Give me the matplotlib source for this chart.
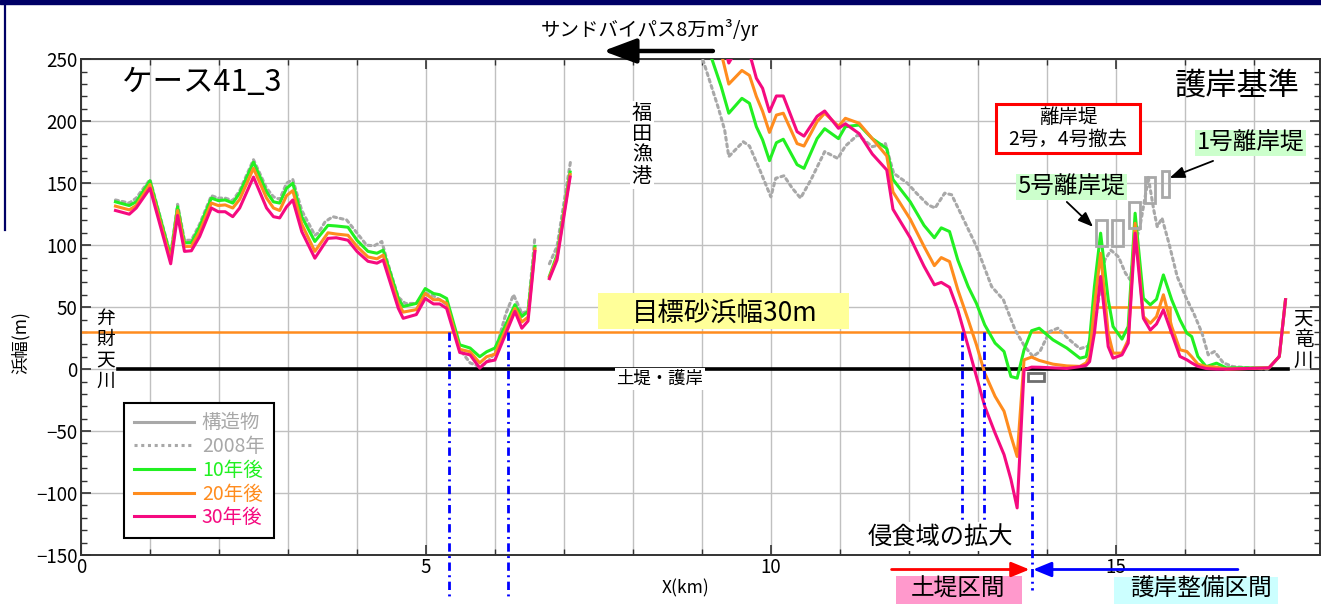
import numpy as np
import matplotlib
matplotlib.use("Agg")
import matplotlib.pyplot as plt
from matplotlib.lines import Line2D
from matplotlib.patches import Rectangle, FancyArrowPatch
from matplotlib.ticker import MultipleLocator

plt.rcParams["font.family"] = ["Noto Sans CJK JP", "DejaVu Sans"]

nan = np.nan

# ---- shoreline positions (km) and beach widths (m) ----
x_model = [0.50, 0.70, 0.80, 1.00, 1.30, 1.40, 1.50, 1.60, 1.72, 1.89, 1.99, 2.09, 2.20, 2.30,
           2.50, 2.69, 2.79, 2.88, 2.98, 3.07, 3.20, 3.39, 3.58, 3.70, 3.87, 4.00, 4.16, 4.29,
           4.38, 4.60, 4.67, 4.86, 4.99, 5.11, 5.20, 5.30, 5.49, 5.64, 5.78, 5.88, 6.00, 6.29,
           6.39, 6.48, 6.58, nan,
           6.79, 6.90, 7.09, nan,
           8.95, 9.14, 9.28, 9.39, 9.58, 9.69, 9.79, 9.88, 9.98, 10.08, 10.18, 10.38, 10.48,
           10.67, 10.78, 10.98, 11.08, 11.28, 11.47, 11.68, 11.77, 12.02, 12.22, 12.37, 12.47,
           12.59, 12.71, 12.86, 12.98, 13.10, 13.25, 13.38, 13.48, 13.57, 13.67, 13.78, 13.89,
           14.09, 14.29, 14.48, 14.57, 14.62, 14.69, 14.78, 14.89, 14.96, 15.09, 15.18, 15.28,
           15.40, 15.50, 15.59, 15.69, 15.81, 15.93, 16.03, 16.10, 16.19, 16.31, 16.46, 16.60,
           17.22, 17.37, 17.46]

width_10y = [135, 132, 135, 152, 91, 131, 102, 102, 115, 138, 136, 136.5, 134, 142,
             167, 143, 135, 134, 146, 150, 123, 103, 116, 115.5, 114.5, 104, 95, 93.5,
             96, 57, 50.5, 53, 65, 61, 60, 57, 19.6, 17, 10, 14, 17, 52,
             42.5, 46.5, 99, nan,
             75, 92, 159, nan,
             300, 251, 228, 206.5, 218.5, 214.5, 195.6, 185, 168.2, 182.7, 185.5, 165, 162,
             186, 194, 186, 195.6, 197, 186, 178, 153, 135, 116, 106, 114,
             111, 88, 66.6, 53, 35.7, 21, 14.2, -6, -7.3, 15.6, 31, 33,
             23.6, 17, 8.8, 10, 23.6, 66.6, 109.7, 56, 34.4, 24.2, 34.4, 125.8,
             57.2, 51.9, 56.4, 76, 56, 39.8, 29, 26.3, 10.2, 2, 4.8, 1,
             1, 10.2, 56]

width_20y = [131.5, 128.5, 132, 149, 88, 128, 99, 99, 111, 134, 132, 132.5, 130, 137,
             162, 138, 130, 128, 140, 144, 117, 95, 110, 109, 108, 99, 90.5, 89,
             92, 53, 46, 48, 61, 56, 56, 53, 16, 14, 5, 10, 12, 49,
             38, 42, 97, nan,
             74, 90, 157, nan,
             330, 270, 255, 230, 241, 237, 220, 208, 191, 205, 206.5, 182, 180,
             199.7, 206.5, 196, 202.4, 198.4, 186, 172, 143, 121, 99, 83.5, 90,
             86.8, 64, 39.8, 19.6, -3.2, -22, -34, -54, -70.5, 7.5, 9.7, 7,
             4, 2.6, 2.2, 5, 10.2, 50.5, 93.5, 29, 12.9, 12.9, 23.6, 117.7,
             42.4, 37, 42.4, 60, 34.4, 15.6, 14.2, 10, 4, 2, 1.6, 0,
             1, 10.2, 56]

width_30y = [128, 125, 130, 146, 85, 124, 95, 95.5, 107, 130, 127, 127, 123, 130,
             155, 130, 123, 122, 131, 136.5, 111, 89.5, 105.5, 106, 104, 95, 87, 85.5,
             88, 49, 41, 44, 57, 52.6, 52.6, 49, 13.4, 11.5, 0.8, 6, 7.3, 46.5,
             33, 38.8, 95, nan,
             73, 88, 155, nan,
             340, 300, 270, 247, 265, 255, 234.7, 226.6, 207.7, 220.4, 220.4, 191.6, 188,
             204, 208.3, 194.3, 198, 190, 173.6, 160.7, 129, 106, 83, 68, 70,
             66, 47.8, 18.2, -6, -30, -51.6, -69, -89, -112, -0.5, 1.6, 1.5,
             1, 0.5, 2, 3, 6, 29, 74.7, 18.2, 8.8, 11.5, 21, 109.7,
             41, 31.5, 36.4, 47.8, 29, 10.2, 7.5, 5, 2.2, 0.5, 0, 0,
             1, 10.2, 56]

x_2008 = [0.50, 0.70, 0.80, 1.00, 1.30, 1.40, 1.50, 1.60, 1.72, 1.89, 1.99, 2.09, 2.20, 2.30,
          2.50, 2.69, 2.79, 2.88, 2.98, 3.07, 3.20, 3.39, 3.44, 3.54, 3.65, 3.85, 3.97, 4.14,
          4.25, 4.36, 4.45, 4.60, 4.70, 4.86, 4.99, 5.11, 5.20, 5.30, 5.49, 5.64, 5.78, 5.88,
          6.00, 6.16, 6.27, 6.39, 6.48, 6.58, nan,
          6.79, 6.90, 7.10, nan,
          8.85, 9.03, 9.24, 9.33, 9.39, 9.60, 9.69, 9.84, 10.00, 10.07, 10.19, 10.31, 10.43,
          10.58, 10.78, 10.97, 11.08, 11.26, 11.47, 11.66, 11.78, 11.98, 12.11, 12.28, 12.38,
          12.52, 12.62, 12.74, 12.98, 13.20, 13.37, 13.54, 13.68, 13.80, 13.90, 14.04, 14.16,
          14.33, 14.48, 14.60, 14.72, 14.84, 14.93, 15.04, 15.14, 15.21, 15.28, 15.35, 15.45,
          15.47, 15.55, 15.60, 15.67, 15.77, 15.89, 16.01, 16.13, 16.25, 16.34, 16.43, 16.56,
          16.70, 17.20]

width_2008 = [136.5, 134, 138, 153, 92, 133, 104, 104, 117, 140, 138, 138, 136, 144,
              169, 146, 139, 137, 150, 153, 128, 108, 110, 119, 123, 120.4, 112, 100,
              99.5, 103, 85, 58, 53, 53, 61.5, 59, 56, 52, 16, 5, 2, 5,
              13, 45, 60, 45, 47, 107, nan,
              85, 99, 169, nan,
              275, 247, 210.5, 193, 171.5, 183.5, 180, 160.7, 139, 154, 156, 146, 138,
              152.7, 175.5, 170, 180, 189, 179.5, 182, 158, 150, 142, 132.5, 130,
              142, 140.7, 127, 99, 66.6, 56, 31.7, 18.2, 10.2, 14.2, 30.3, 33,
              23.6, 16.5, 18.5, 45, 88, 96, 90.5, 77.4, 72, 101, 115, 147,
              155, 128.5, 115, 121.8, 101.6, 74.7, 58.6, 45, 29, 11.5, 14.2, 5,
              2, 0]

# target beach width (m), with the raised target behind the detached breakwaters
target_x = [0.0, 17.49]
target_width = [30, 30]
target_step_x = [14.67, 14.67, 15.78, 15.78]
target_step_width = [30, 50, 50, 30]

# seawall / embankment line
seawall_x = [0.53, 17.49]
seawall_y = [0, 0]

# structures (km / m): detached breakwaters and the small groin below the seawall
struct_x0 = [14.71, 14.95, 15.19, 15.42, 15.67, 13.73]
struct_x1 = [14.87, 15.11, 15.35, 15.57, 15.77, 13.96]
struct_y0 = [99.4, 99.4, 114.0, 134.3, 139.0, -9.2]
struct_y1 = [120.4, 120.4, 135.0, 155.3, 160.0, -3.2]

# section boundaries (km)
boundary_x = [5.34, 6.19, 12.77, 13.09, 13.78]

x_ticks = [0, 5, 10, 15]
y_ticks = [-150, -100, -50, 0, 50, 100, 150, 200, 250]

C_GRAY = "#A8A8A8"
C_GREEN = "#22F022"
C_ORANGE = "#FF8C1E"
C_MAGENTA = "#F50A80"
C_BLUE = "#0000FF"

W, H = 1321, 604
fig = plt.figure(figsize=(W / 100, H / 100), dpi=100)
ax = fig.add_axes([81 / W, 49 / H, 1239 / W, 495.7 / H])
ax.set_xlim(0, 17.96)
ax.set_ylim(-150, 250)

# frame decoration
fig.add_artist(Rectangle((0, 1 - 3.5 / H), 1, 3.5 / H, transform=fig.transFigure,
                         color="#000066", zorder=0))
fig.add_artist(Line2D([4.8 / W, 4.8 / W], [1, 1 - 230 / H], transform=fig.transFigure,
                      color="#000066", lw=1.6))

# ticks and grid
ax.set_xticks(x_ticks)
ax.xaxis.set_minor_locator(MultipleLocator(1))
ax.set_yticks(y_ticks)
ax.yaxis.set_minor_locator(MultipleLocator(10))
ax.tick_params(which="both", direction="in", top=True, right=True, color="#333333",
               labelsize=13.5)
ax.tick_params(which="major", length=7, width=1.2)
ax.tick_params(which="minor", length=4.5, width=1.0)
ax.tick_params(axis="y", pad=2.5)
ax.tick_params(axis="x", pad=1.5)
ax.grid(which="both", axis="x", color="#C0C0C0", lw=1.0)
ax.grid(which="major", axis="y", color="#C0C0C0", lw=1.0)
ax.set_axisbelow(True)
for sp in ax.spines.values():
    sp.set_color("#333333")
    sp.set_linewidth(1.4)

# reference lines
ax.plot(target_x, target_width, color=C_ORANGE, lw=1.8, zorder=2)
ax.plot(target_step_x, target_step_width, color=C_ORANGE, lw=1.8, zorder=2)
ax.plot(seawall_x, seawall_y, color="black", lw=2.6, zorder=2.5)

# beach width series
ax.plot(x_2008, width_2008, color=C_GRAY, lw=2.2, ls=(0, (1, 1.2)),
        dash_capstyle="round", zorder=3)
ax.plot(x_model, width_10y, color=C_GREEN, lw=2.2, zorder=4)
ax.plot(x_model, width_20y, color=C_ORANGE, lw=2.2, zorder=5)
ax.plot(x_model, width_30y, color=C_MAGENTA, lw=2.2, zorder=6)

# structures
for x0, x1, y0, y1 in zip(struct_x0, struct_x1, struct_y0, struct_y1):
    ec = "#6E6E6E" if y1 < 0 else C_GRAY
    ax.add_patch(Rectangle((x0, y0), x1 - x0, y1 - y0, fill=False, ec=ec, lw=2.0, zorder=7))

# section boundary lines
bnd_top = [30, 30, 30, 30, -22]
bnd_bot = [-186, -186, -124, -124, -178]
for xb, yt, yb in zip(boundary_x, bnd_top, bnd_bot):
    ax.plot([xb, xb], [yt, yb], color=C_BLUE, lw=2.0, ls=(0, (3, 1.6, 0.7, 1.6)),
            clip_on=False, zorder=7)


def arrow(start, end, color, lw, hl, hw):
    ax.add_patch(FancyArrowPatch(start, end,
                                 arrowstyle=f"-|>,head_length={hl},head_width={hw}",
                                 mutation_scale=1, color=color, lw=lw, clip_on=False,
                                 shrinkA=0, shrinkB=0, zorder=9))


# sand bypass
arrow((9.16, 256.7), (7.57, 256.7), "black", 3.2, 20, 7.5)
ax.text(8.25, 274, "サンドバイパス8万m³/yr", fontsize=14, ha="center", va="center",
        clip_on=False)

# titles
ax.text(0.59, 231, "ケース41_3", fontsize=22, ha="left", va="center", zorder=10)
ax.text(17.67, 229, "護岸基準", fontsize=22.5, ha="right", va="center", zorder=10)

# place names
ax.text(8.13, 181, "福\n田\n漁\n港", fontsize=14.5, ha="center", va="center",
        linespacing=1.0, zorder=10,
        bbox=dict(boxstyle="square,pad=0.1", fc="white", ec="none"))
ax.text(0.36, 15.6, "弁\n財\n天\n川", fontsize=13.5, ha="center", va="center",
        linespacing=1.0, zorder=10)
ax.text(17.72, 23.6, "天\n竜\n川", fontsize=14, ha="center", va="center",
        linespacing=1.0, zorder=10)
ax.text(8.39, -7.8, "土堤・護岸", fontsize=12.5, ha="center", va="center", zorder=10,
        bbox=dict(boxstyle="square,pad=0.1", fc="white", ec="none"))

# target label
ax.add_patch(Rectangle((7.49, 32.4), 11.13 - 7.49, 61.3 - 32.4, fc="#FFFF99", ec="none",
                       zorder=8))
ax.text(9.33, 45.2, "目標砂浜幅30m", fontsize=19, ha="center", va="center", zorder=9)

# breakwater notes
ax.add_patch(Rectangle((13.27, 174.4), 15.35 - 13.27, 213.9 - 174.4, fc="white",
                       ec="#FF0000", lw=2.2, zorder=9))
ax.text(14.31, 194.2, "離岸堤\n2号，4号撤去", fontsize=14, ha="center", va="center",
        multialignment="center", linespacing=1.0, zorder=10)
ax.text(14.36, 147, "5号離岸堤", fontsize=17, ha="center", va="center", zorder=10,
        bbox=dict(boxstyle="square,pad=0.08", fc="#CCFFCC", ec="none"))
ax.text(16.95, 182.5, "1号離岸堤", fontsize=17, ha="center", va="center", zorder=10,
        bbox=dict(boxstyle="square,pad=0.08", fc="#CCFFCC", ec="none"))
arrow((14.29, 134.9), (14.67, 114.8), "black", 1.3, 9, 3.5)
arrow((16.41, 168.0), (15.78, 154.3), "black", 1.3, 9, 3.5)

# erosion / section annotations
ax.text(12.46, -135, "侵食域の拡大", fontsize=17.5, ha="center", va="center", zorder=10,
        bbox=dict(boxstyle="square,pad=0.05", fc="white", ec="none"))
arrow((11.75, -161.7), (13.75, -161.7), "#FF0000", 2.0, 11, 4.5)
arrow((16.77, -161.7), (13.80, -161.7), C_BLUE, 2.0, 11, 4.5)
ax.add_patch(Rectangle((11.81, -205), 13.64 - 11.81, 38, fc="#FF99CC", ec="none",
                       clip_on=False, zorder=8))
ax.text(12.72, -177.5, "土堤区間", fontsize=17, ha="center", va="center", clip_on=False,
        zorder=9)
ax.add_patch(Rectangle((14.98, -205), 17.35 - 14.98, 37.5, fc="#CCFFFF", ec="none",
                       clip_on=False, zorder=8))
ax.text(16.23, -177.5, "護岸整備区間", fontsize=17, ha="center", va="center",
        clip_on=False, zorder=9)

# axis labels
fig.text(21 / W, 1 - 343 / H, "浜幅(m)", fontsize=12.5, rotation=90, ha="center",
         va="center")
fig.text(686 / W, 1 - 588 / H, "X(km)", fontsize=12.5, ha="center", va="center")

# legend
handles = [
    Line2D([], [], color=C_GRAY, lw=2.2),
    Line2D([], [], color=C_GRAY, lw=2.2, ls=(0, (1, 1.2))),
    Line2D([], [], color=C_GREEN, lw=2.2),
    Line2D([], [], color=C_ORANGE, lw=2.2),
    Line2D([], [], color=C_MAGENTA, lw=2.2),
]
labels = ["構造物", "2008年", "10年後", "20年後", "30年後"]
leg = ax.legend(handles, labels, loc="lower left", bbox_to_anchor=(0.0347, 0.0343),
                borderaxespad=0, fontsize=14, handlelength=3.1, handletextpad=0.4,
                labelspacing=0.14, borderpad=0.5, fancybox=False, framealpha=1,
                edgecolor="black",
                labelcolor=[C_GRAY, C_GRAY, C_GREEN, C_ORANGE, C_MAGENTA])
leg.get_frame().set_linewidth(1.5)
leg.set_zorder(11)

fig.savefig("out.png", dpi=100)
